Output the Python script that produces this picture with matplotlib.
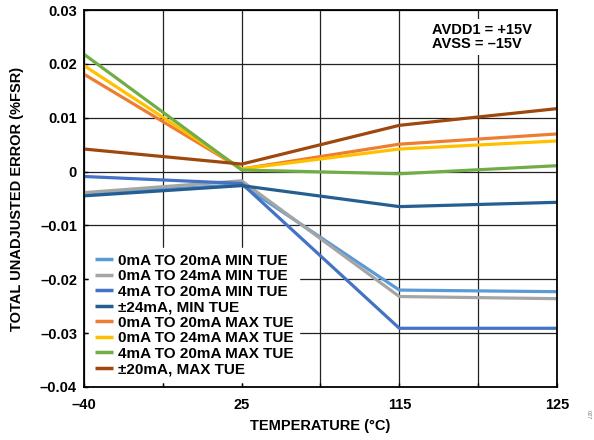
import numpy as np
import matplotlib.pyplot as plt

plt.rcParams['font.family'] = ['Liberation Sans', 'DejaVu Sans']
plt.rcParams['font.weight'] = 'bold'
plt.rcParams['axes.labelweight'] = 'bold'

# temperature points (equally spaced on the chart)
temps = ['\u201340', '25', '115', '125']

# TUE values, %FSR
min_0_20 = [-0.0042, -0.0024, -0.0220, -0.0223]
min_0_24 = [-0.0039, -0.0017, -0.0232, -0.0236]
min_4_20 = [-0.0009, -0.0022, -0.0291, -0.0291]
min_pm24 = [-0.0045, -0.0026, -0.0065, -0.0057]
max_0_20 = [0.0181, 0.0005, 0.0051, 0.0070]
max_0_24 = [0.0197, 0.0005, 0.0042, 0.0057]
max_4_20 = [0.0218, 0.0003, -0.0004, 0.0011]
max_pm20 = [0.0042, 0.0014, 0.0086, 0.0117]

labels = ['0mA TO 20mA MIN TUE', '0mA TO 24mA MIN TUE', '4mA TO 20mA MIN TUE',
          '\u00b124mA, MIN TUE', '0mA TO 20mA MAX TUE', '0mA TO 24mA MAX TUE',
          '4mA TO 20mA MAX TUE', '\u00b120mA, MAX TUE']
colors = ['#5B9BD5', '#A5A5A5', '#4472C4', '#255E91',
          '#ED7D31', '#FFC000', '#70AD47', '#9E480E']
series = [min_0_20, min_0_24, min_4_20, min_pm24,
          max_0_20, max_0_24, max_4_20, max_pm20]

fig = plt.figure(figsize=(5.94, 4.40), dpi=100)
ax = fig.add_axes([0.1414, 0.1205, 0.7963, 0.8565])

x = np.arange(len(temps))
for vals, lab, col in zip(series, labels, colors):
    ax.plot(x, vals, color=col, lw=2.3, label=lab, solid_capstyle='butt')

ax.set_xlim(0, 3)
ax.set_ylim(-0.04, 0.03)
ax.set_xticks(np.arange(0, 3.01, 0.5))
ax.set_xticklabels(['\u201340', '', '25', '', '115', '', '125'])
ax.set_yticks(np.arange(-0.04, 0.031, 0.01))
ax.set_yticklabels(['\u20130.04', '\u20130.03', '\u20130.02', '\u20130.01',
                    '0', '0.01', '0.02', '0.03'])
ax.tick_params(direction='in', length=3, labelsize=10.5, width=1)
ax.tick_params(axis='x', pad=8)
ax.tick_params(axis='y', pad=5)
ax.grid(True, color='#222222', lw=0.9)
ax.set_axisbelow(True)
for s in ax.spines.values():
    s.set_linewidth(1.3)

ax.set_xlabel('TEMPERATURE (\u00b0C)', fontsize=10.5, va='center')
ax.set_ylabel('TOTAL UNADJUSTED ERROR (%FSR)', fontsize=10.5, va='center')
ax.xaxis.set_label_coords(0.5, -0.103)
ax.yaxis.set_label_coords(-0.142, 0.5)

leg = ax.legend(loc='lower left', fontsize=11, frameon=True, fancybox=False,
                edgecolor='white', framealpha=1, handlelength=1.2,
                handletextpad=0.35, labelspacing=0.1, borderpad=0.35,
                borderaxespad=0.35)
for h in leg.get_lines():
    h.set_linewidth(2.5)

ax.text(0.736, 0.965, 'AVDD1 = +15V\nAVSS = \u201315V', transform=ax.transAxes,
        fontsize=10.5, va='top', ha='left', linespacing=0.95,
        bbox=dict(facecolor='white', edgecolor='none', pad=3))

fig.text(0.99, 0.057, '027', rotation=270, fontsize=4, color='#777777',
         fontweight='normal', ha='center', va='center')

fig.savefig('out.png', dpi=100)
